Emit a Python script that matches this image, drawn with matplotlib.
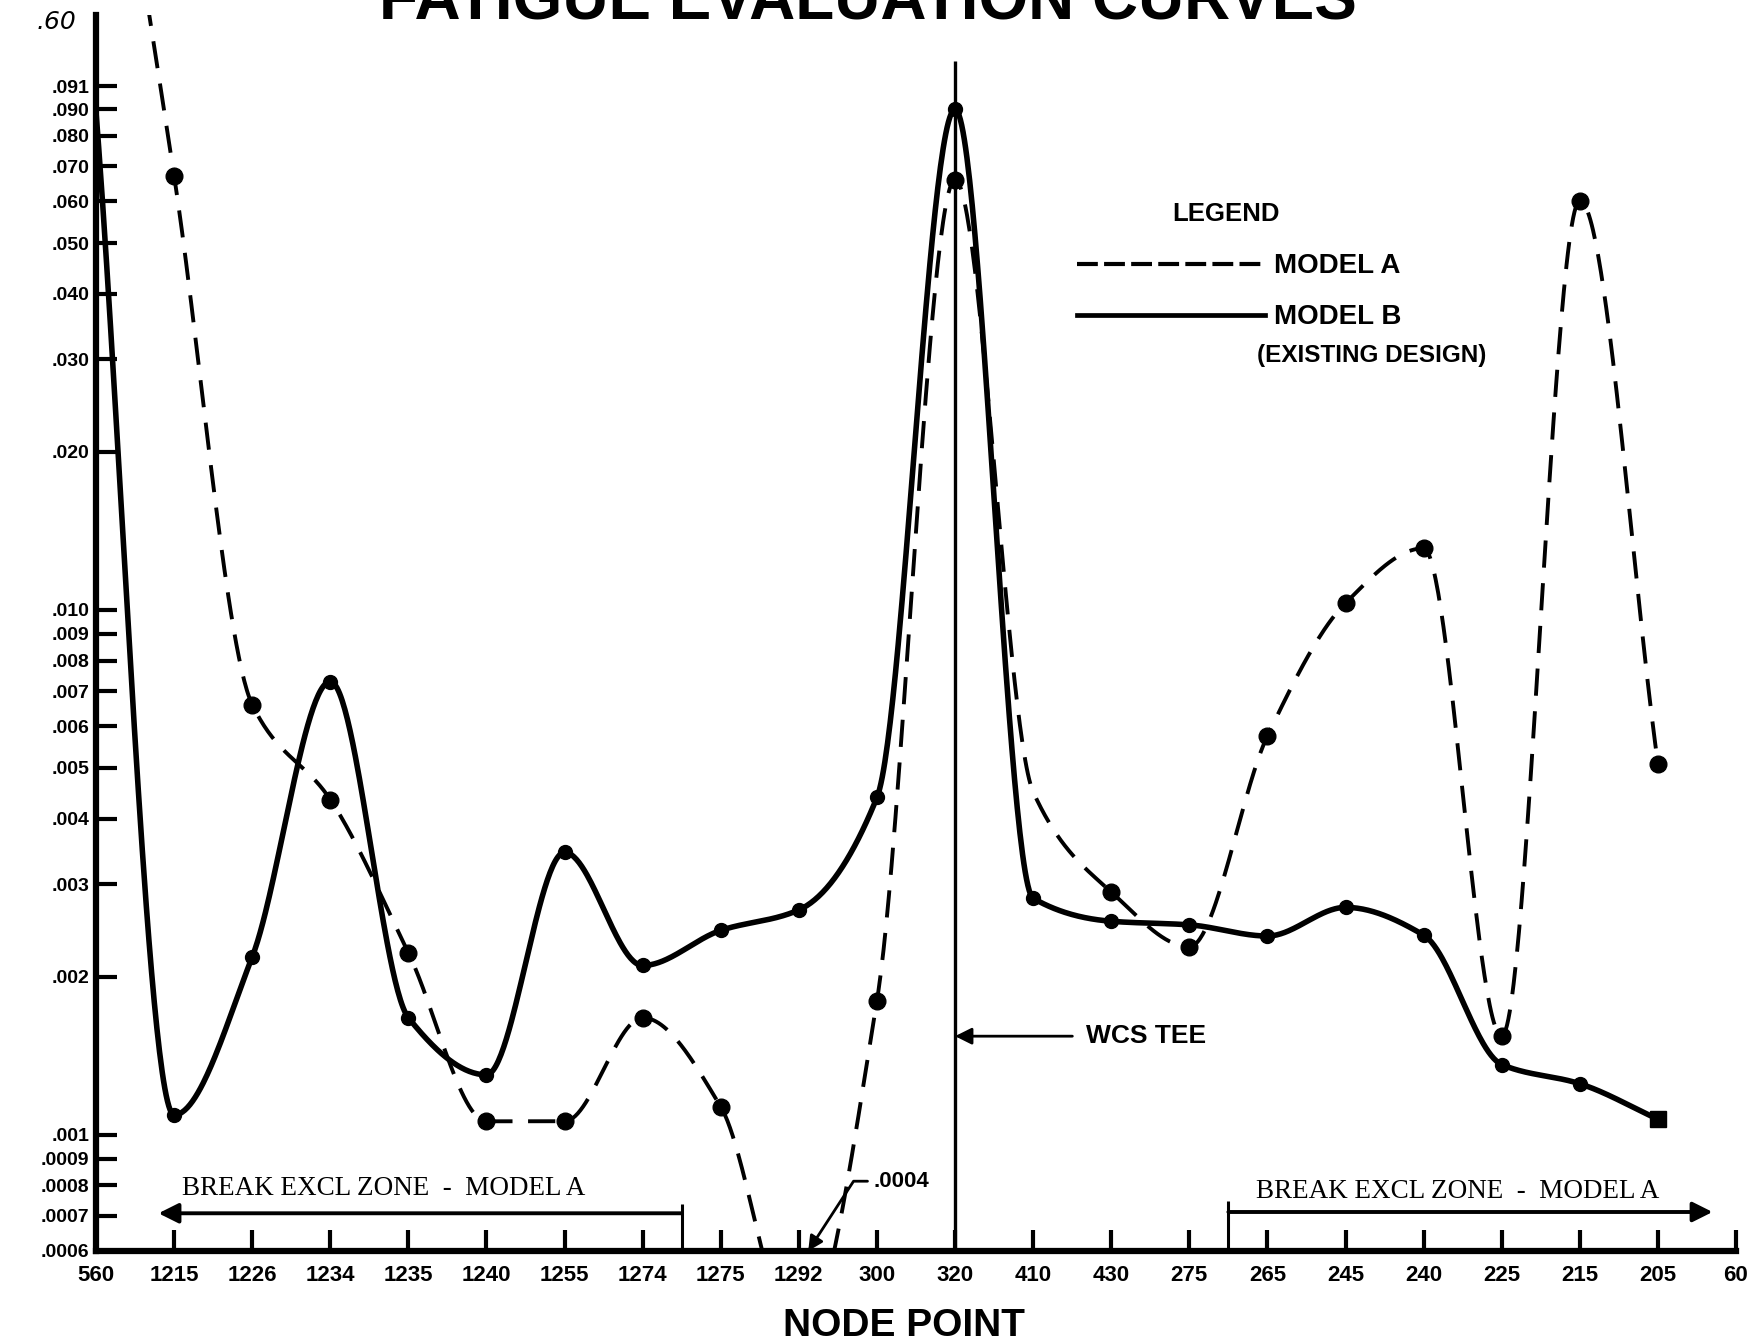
import numpy as np
import matplotlib
matplotlib.use("Agg")
import matplotlib.pyplot as plt
from matplotlib.lines import Line2D

# node points along the x axis (category order as printed)
nodes = ['560', '1215', '1226', '1234', '1235', '1240', '1255', '1274', '1275',
         '1292', '300', '320', '410', '430', '275', '265', '245', '240', '225',
         '215', '205', '60']

# fatigue usage (node 60 has no value)
model_a = [0.60, 0.0672, 0.0066, 0.00435, 0.00222, 0.00106, 0.00106, 0.00167,
           0.00113, 0.0004, 0.0018, 0.066, 0.0045, 0.0029, 0.00228, 0.00575,
           0.0103, 0.0131, 0.00154, 0.0602, 0.00509]
model_b = [0.089, 0.00109, 0.00218, 0.0073, 0.00167, 0.0013, 0.00345, 0.0021,
           0.00245, 0.00268, 0.00439, 0.0899, 0.00282, 0.00255, 0.00251, 0.00239,
           0.00271, 0.0024, 0.00136, 0.00125, 0.00107]

# which nodes carry a plotted dot
a_dots = [1, 2, 3, 4, 5, 6, 7, 8, 10, 11, 13, 14, 15, 16, 17, 18, 19, 20]
b_dots = [1, 2, 3, 4, 5, 6, 7, 8, 9, 10, 11, 12, 13, 14, 15, 16, 17, 18, 19]

ytick_vals = [0.0006, 0.0007, 0.0008, 0.0009, 0.001, 0.002, 0.003, 0.004, 0.005,
              0.006, 0.007, 0.008, 0.009, 0.010, 0.020, 0.030, 0.040, 0.050,
              0.060, 0.070, 0.080, 0.090, 0.0995]
ytick_labels = ['.0006', '.0007', '.0008', '.0009', '.001', '.002', '.003', '.004',
                '.005', '.006', '.007', '.008', '.009', '.010', '.020', '.030',
                '.040', '.050', '.060', '.070', '.080', '.090', '.091']

SANS = 'Liberation Sans'
SERIF = 'Liberation Serif'


def smooth(yv, n=60):
    # monotone cubic through the points, done in log space
    ly = np.log10(np.asarray(yv, dtype=float))
    d = np.diff(ly)
    m = np.zeros_like(ly)
    m[0] = d[0]
    m[-1] = d[-1]
    for i in range(1, len(ly) - 1):
        if d[i - 1] * d[i] > 0:
            m[i] = 2.0 / (1.0 / d[i - 1] + 1.0 / d[i])
    xs, ys = [], []
    for i in range(len(d)):
        t = np.linspace(0, 1, n)
        h00 = 2 * t**3 - 3 * t**2 + 1
        h10 = t**3 - 2 * t**2 + t
        h01 = -2 * t**3 + 3 * t**2
        h11 = t**3 - t**2
        xs.append(i + t)
        ys.append(h00 * ly[i] + h10 * m[i] + h01 * ly[i + 1] + h11 * m[i + 1])
    return np.concatenate(xs), 10 ** np.concatenate(ys)


fig = plt.figure(figsize=(17.62, 13.43), dpi=100)
ax = fig.add_axes([96 / 1762, 92 / 1343, (1736 - 96) / 1762, (1328 - 92) / 1343])
ax.set_yscale('log')
ax.set_xlim(0, 21)
ax.set_ylim(0.0006, 0.136)

xa, ya = smooth(model_a)
ax.plot(xa, ya, color='black', lw=2.8, ls=(0, (7, 4)))
ax.plot(a_dots, [model_a[i] for i in a_dots], 'o', color='black', ms=12)

xb, yb = smooth(model_b)
ax.plot(xb, yb, color='black', lw=4, solid_capstyle='round')
ax.plot(b_dots, [model_b[i] for i in b_dots], 'o', color='black', ms=10)
ax.plot([20], [model_b[20]], 's', color='black', ms=11)

# WCS tee line at node 320
ax.vlines(11, 0.0006, 0.111, color='black', lw=2.4)

for s in ['top', 'right']:
    ax.spines[s].set_visible(False)
for s in ['left', 'bottom']:
    ax.spines[s].set_linewidth(4.5)

ax.set_xticks(range(len(nodes)))
ax.set_xticklabels(nodes)
ax.set_yticks(ytick_vals)
ax.set_yticklabels(ytick_labels)
ax.yaxis.set_minor_locator(matplotlib.ticker.NullLocator())
ax.tick_params(axis='both', direction='in', length=15, width=3, colors='black')
ax.tick_params(axis='x', pad=10)
ax.tick_params(axis='y', pad=5)
for lab in ax.get_xticklabels():
    lab.set_fontfamily(SANS)
    lab.set_fontweight('bold')
    lab.set_fontsize(16)
for lab in ax.get_yticklabels():
    lab.set_fontfamily(SANS)
    lab.set_fontweight('bold')
    lab.set_fontsize(14)

ax.text(-0.25, 0.132, '.60', ha='right', va='center', fontsize=18, style='italic',
        family='DejaVu Sans', clip_on=False)

# break exclusion zones
ax.vlines([7.5, 14.5], 0.0006, [0.000738, 0.000748], color='black', lw=2.2)
ax.annotate('', xy=(0.8, 0.000708), xytext=(7.5, 0.000708),
            arrowprops=dict(arrowstyle='-|>', lw=2.8, color='black',
                            mutation_scale=30, shrinkA=0, shrinkB=0))
ax.annotate('', xy=(20.7, 0.000712), xytext=(14.5, 0.000712),
            arrowprops=dict(arrowstyle='-|>', lw=2.8, color='black',
                            mutation_scale=30, shrinkA=0, shrinkB=0))
ax.text(1.1, 0.00079, 'BREAK EXCL ZONE  -  MODEL A', family=SERIF, fontsize=19.5,
        va='center', ha='left')
ax.text(14.85, 0.00078, 'BREAK EXCL ZONE  -  MODEL A', family=SERIF, fontsize=19.5,
        va='center', ha='left')

ax.annotate('.0004', xy=(9.12, 0.0006), xytext=(9.95, 0.000815), ha='left',
            va='center', family=SANS, fontweight='bold', fontsize=16,
            annotation_clip=False,
            arrowprops=dict(arrowstyle='-|>', lw=2, color='black',
                            mutation_scale=22, shrinkA=2, shrinkB=0,
                            connectionstyle='angle,angleA=0,angleB=57,rad=0'))

ax.annotate('WCS TEE', xy=(11.0, 0.00154), xytext=(12.68, 0.00154), ha='left',
            va='center', family=SANS, fontweight='bold', fontsize=19,
            arrowprops=dict(arrowstyle='-|>', lw=2, color='black',
                            mutation_scale=25, shrinkA=8, shrinkB=0))

# legend
h_a = Line2D([], [], color='black', lw=3, ls=(0, (5, 1.5)))
h_b = Line2D([], [], color='black', lw=3.4)
leg = ax.legend([h_a, h_b], ['MODEL A', 'MODEL B'],
                loc='center left', bbox_to_anchor=(0.583, 0.776), frameon=False,
                handlelength=6.75, handletextpad=0.35, labelspacing=0.9,
                prop=dict(family=SANS, weight='bold', size=20))
ax.text(14.47, 0.0567, 'LEGEND', family=SANS, fontweight='bold', fontsize=18.5,
        va='center', ha='center')
ax.text(14.87, 0.0305, '(EXISTING DESIGN)', family=SANS, fontweight='bold',
        fontsize=17.5, va='center', ha='left')

fig.text(0.4925, 1 - 20 / 1343, 'FATIGUE EVALUATION CURVES', ha='center',
         va='baseline', family=SANS, fontweight='bold', fontsize=46)
fig.text(0.513, 17 / 1343, 'NODE POINT', ha='center', va='center', family=SANS,
         fontweight='bold', fontsize=28)

fig.savefig('out.png', dpi=100)
